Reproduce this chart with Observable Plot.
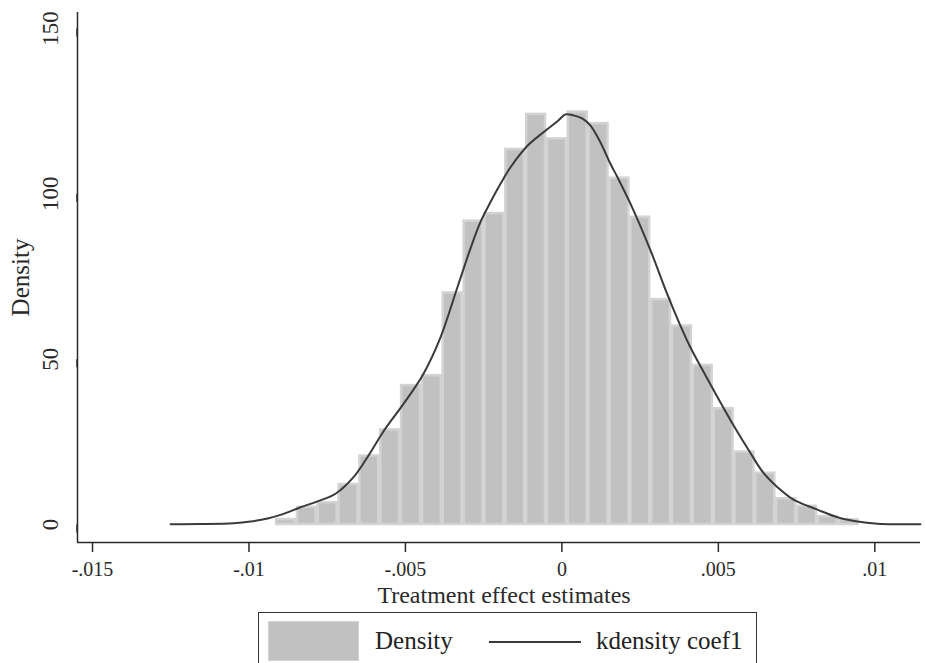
<!DOCTYPE html>
<html>
<head>
<meta charset="utf-8">
<script src="https://cdn.jsdelivr.net/npm/d3@7"></script>
<script src="https://cdn.jsdelivr.net/npm/@observablehq/plot@0.6"></script>
<style>
  html, body { margin: 0; padding: 0; background: #fff; }
  #wrap { position: relative; width: 926px; height: 663px; overflow: hidden; background: #fff; font-family: "Liberation Serif", serif; color: #222; }
  #legend { position: absolute; left: 258px; top: 612px; width: 499px; height: 70px; border: 1.5px solid #333; background: #fff; box-sizing: border-box; }
  #legend .sw { position: absolute; left: 9px; top: 8px; width: 91px; height: 40px; background: #c1c1c1; border: 1.5px solid #d3d3d3; box-sizing: border-box; }
  #legend .t { position: absolute; top: 14px; font-size: 25px; line-height: 28px; white-space: nowrap; }
  #legend .ln { position: absolute; left: 230px; top: 28px; width: 92px; height: 2px; background: #3a3a3a; }
</style>
</head>
<body>
<div id="wrap">
  <div id="chart"></div>
  <div id="legend">
    <div class="sw"></div>
    <div class="t" style="left:116px">Density</div>
    <div class="ln"></div>
    <div class="t" style="left:337px">kdensity coef1</div>
  </div>
</div>
<script>
const xTicks = [-0.015, -0.01, -0.005, 0, 0.005, 0.01];
const yTicks = [0, 50, 100, 150];
const xDomain = [-0.01548, 0.01146];
const yDomain = [-5.44, 154.8];

// histogram bin edges and densities
const binEdges = [-0.00915, -0.008484, -0.007818, -0.007152, -0.006486, -0.00582, -0.005154, -0.004488,
  -0.003822, -0.003156, -0.00249, -0.001824, -0.001158, -0.000492, 0.000174, 0.00084, 0.001506,
  0.002172, 0.002838, 0.003504, 0.00417, 0.004836, 0.005502, 0.006168, 0.006834, 0.0075,
  0.008166, 0.008832, 0.009498];
const density = [1.5, 5.2, 6.6, 12.1, 20.7, 28.6, 42, 45, 70, 91.7, 94, 113.4, 124, 116.6,
  124.7, 121.2, 104.7, 92.9, 68, 60, 48.1, 35, 21.9, 15.5, 7.8, 5.5, 2.4, 1.4];

// kernel density curve
const kdeX = [-0.012505, -0.011547, -0.010492, -0.009949, -0.009406, -0.008895, -0.008352, -0.007809,
  -0.007234, -0.006658, -0.006211, -0.0057, -0.005476, -0.005253, -0.004837, -0.004422, -0.003879,
  -0.003336, -0.00292, -0.002601, -0.002281, -0.001962, -0.001642, -0.001099, -0.000588, -0.000141,
  0.000115, 0.000371, 0.000658, 0.000914, 0.001233, 0.001553, 0.001776, 0.002288, 0.002831,
  0.003374, 0.003885, 0.004109, 0.004652, 0.005483, 0.006026, 0.006441, 0.006888, 0.0074,
  0.008166, 0.008805, 0.009444, 0.010084, 0.010818, 0.011457];
const kdeY = [0.1, 0.15, 0.4, 0.9, 1.8, 3.2, 5.2, 7.0,
  9.3, 14.3, 20.4, 28.2, 31.2, 34, 39.5, 45.6, 56.6,
  71.8, 83.5, 91.5, 97.5, 103, 108, 114.5, 118.6, 121.9,
  124, 123.7, 122.7, 120.6, 115.5, 109, 105, 95, 82.9,
  69.5, 58.0, 53.5, 44.0, 30.0, 21.6, 15.6, 11.3, 7.5,
  4.5, 2.2, 0.9, 0.25, 0.08, 0.05];

const bins = density.map((d, i) => ({x1: binEdges[i], x2: binEdges[i + 1], y: d}));
const kde = kdeX.map((x, i) => ({x, y: kdeY[i]}));

const fmt = d => d === 0 ? "0" : String(d).replace("0.", ".");

const chart = Plot.plot({
  width: 926,
  height: 612,
  marginLeft: 77,
  marginRight: 6,
  marginTop: 12,
  marginBottom: 70,
  style: {fontFamily: "Liberation Serif, serif", fontSize: "20px", color: "#2a2a2a", background: "#fff"},
  x: {domain: xDomain},
  y: {domain: yDomain},
  marks: [
    Plot.rectY(bins, {x1: "x1", x2: "x2", y: "y", fill: "#c1c1c1", stroke: "#d3d3d3", strokeWidth: 2.5, insetLeft: 1, insetRight: 1}),
    Plot.line(kde, {x: "x", y: "y", stroke: "#3a3a3a", strokeWidth: 2, curve: "catmull-rom"}),
    Plot.ruleX([xDomain[0]], {stroke: "#2a2a2a", strokeWidth: 1.5}),
    Plot.ruleY([yDomain[0]], {stroke: "#2a2a2a", strokeWidth: 1.5}),
    Plot.axisX({ticks: xTicks, tickFormat: fmt, tickSize: 10, tickPadding: 9, label: null, fontSize: 20, strokeWidth: 1.5}),
    Plot.axisY({ticks: yTicks, tickSize: 8, tickPadding: 19, rotate: -90, textAnchor: "middle", label: null, fontSize: 23, strokeWidth: 1.5}),
    Plot.text(["Treatment effect estimates"], {text: d => d, frameAnchor: "bottom", dy: 60, dx: 5, fontSize: 24}),
    Plot.text(["Density"], {text: d => d, frameAnchor: "left", dx: -57, rotate: -90, textAnchor: "middle", fontSize: 25})
  ]
});
document.getElementById("chart").appendChild(chart);
</script>
</body>
</html>
